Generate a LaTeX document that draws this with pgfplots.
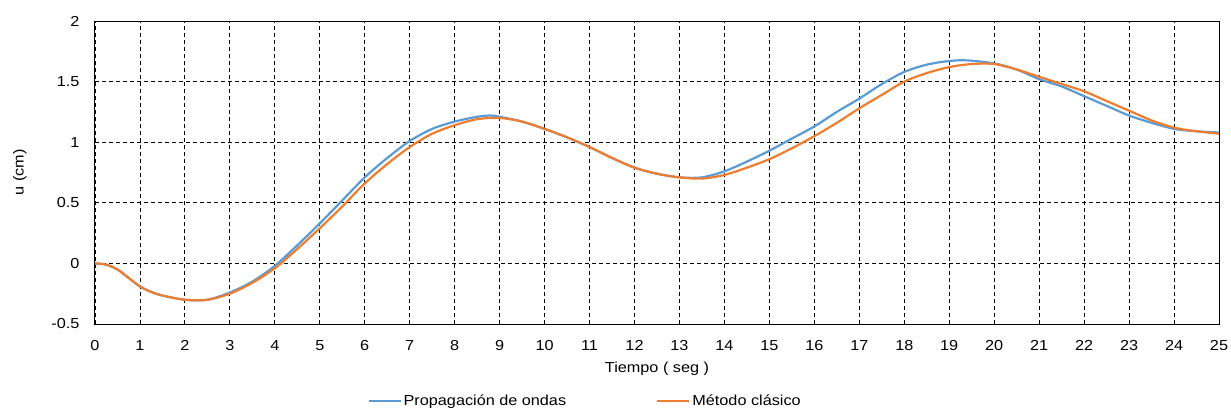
\documentclass[border=0pt]{standalone}
\usepackage{fontspec}
\setmainfont{Liberation Sans}[FakeStretch=1.12]
\usepackage{pgfplots}
\pgfplotsset{compat=1.18}

\definecolor{serieazul}{HTML}{5B9BD5}
\definecolor{serienaranja}{HTML}{ED7D31}

\pgfplotstableread{
t u
0 0
0.25 -0.01
0.5 -0.05
0.75 -0.12
1 -0.19
1.25 -0.235
1.5 -0.265
2 -0.30
2.5 -0.30
3 -0.24
3.5 -0.15
4 -0.02
4.5 0.15
5 0.33
5.5 0.52
6 0.71
6.5 0.87
7 1.01
7.5 1.11
8 1.17
8.5 1.21
8.8 1.22
9 1.21
9.5 1.17
10 1.11
10.5 1.04
11 0.96
11.5 0.87
12 0.79
12.5 0.74
13 0.71
13.5 0.71
14 0.76
14.5 0.84
15 0.93
15.5 1.03
16 1.13
16.5 1.25
17 1.36
17.5 1.48
18 1.58
18.5 1.64
19 1.67
19.4 1.675
20 1.65
20.5 1.60
21 1.52
21.5 1.46
22 1.38
22.5 1.30
23 1.22
23.5 1.16
24 1.11
24.5 1.09
25 1.08
}\ondas

\pgfplotstableread{
t u
0 0
0.25 -0.01
0.5 -0.05
0.75 -0.12
1 -0.19
1.25 -0.235
1.5 -0.265
2 -0.30
2.5 -0.30
3 -0.25
3.5 -0.16
4 -0.04
4.5 0.12
5 0.29
5.5 0.47
6 0.66
6.5 0.82
7 0.96
7.5 1.07
8 1.14
8.5 1.19
9 1.20
9.5 1.17
10 1.11
10.5 1.04
11 0.96
11.5 0.87
12 0.79
12.5 0.74
13 0.71
13.5 0.70
14 0.73
14.5 0.79
15 0.86
15.5 0.95
16 1.05
16.5 1.16
17 1.28
17.5 1.39
18 1.50
18.5 1.57
19 1.62
19.5 1.645
20 1.645
20.5 1.60
21 1.54
21.5 1.48
22 1.42
22.5 1.34
23 1.26
23.5 1.18
24 1.12
24.5 1.09
25 1.07
}\clasico

\begin{document}
\begin{tikzpicture}[font=\fontsize{14.5}{17}\selectfont]
  \useasboundingbox (-95pt,-92pt) rectangle (1136pt,324pt);
  \begin{axis}[
    at={(0pt,0pt)}, anchor=south west,
    scale only axis,
    width=1124pt, height=303pt,
    xmin=0, xmax=25, ymin=-0.5, ymax=2,
    xtick={0,1,...,25},
    ytick={-0.5,0,0.5,1,1.5,2},
    yticklabels={-0.5,0,0.5,1,1.5,2},
    /pgf/number format/assume math mode=true,
    tick style={draw=none},
    xticklabel style={yshift=-13pt},
    yticklabel style={xshift=-12pt},
    grid=major,
    major grid style={black, line width=0.9pt, dash pattern=on 4pt off 3pt},
    axis line style={black, line width=1pt},
    xlabel={Tiempo ( seg )},
    ylabel={u (cm)},
    xlabel style={yshift=-4pt},
    ylabel style={yshift=18pt},
    legend columns=2,
    legend style={draw=none, at={(0.436,-0.255)}, anchor=center,
      inner sep=1pt,
      /tikz/every even column/.append style={column sep=88pt}},
    legend image code/.code={\draw[#1, line width=2.2pt] (0pt,0pt) -- (32pt,0pt);},
  ]
    \addplot[serieazul, line width=2.2pt, smooth] table[x=t, y=u] {\ondas};
    \addlegendentry{Propagación de ondas}
    \addplot[serienaranja, line width=2.2pt, smooth] table[x=t, y=u] {\clasico};
    \addlegendentry{Método clásico}
  \end{axis}
\end{tikzpicture}
\end{document}
